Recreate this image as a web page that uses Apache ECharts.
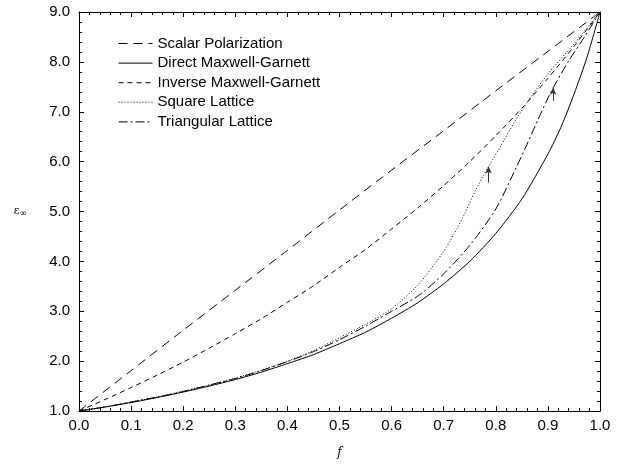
<!DOCTYPE html>
<html>
<head>
<meta charset="utf-8">
<script src="https://cdn.jsdelivr.net/npm/echarts@6/dist/echarts.min.js"></script>
<style>
html,body{margin:0;padding:0;background:#fff;}
#chart{width:619px;height:466px;}
</style>
</head>
<body>
<div id="chart"></div>
<script>
// ---- data ----
var seriesNames = ['Scalar Polarization','Direct Maxwell-Garnett','Inverse Maxwell-Garnett','Square Lattice','Triangular Lattice'];

var fScalar   = [0, 0.1, 0.2, 0.3, 0.4, 0.5, 0.6, 0.7, 0.8, 0.9, 1.0];
var epsScalar = [1.00, 1.81, 2.62, 3.42, 4.22, 5.03, 5.83, 6.62, 7.42, 8.21, 9.00];

var fDirect   = [0, 0.05, 0.1, 0.15, 0.2, 0.25, 0.3, 0.35, 0.4, 0.45, 0.5, 0.55, 0.6, 0.65, 0.7, 0.75, 0.8, 0.85, 0.9, 0.925, 0.95, 0.975, 1.0];
var epsDirect = [1.00, 1.08, 1.17, 1.27, 1.38, 1.50, 1.63, 1.78, 1.95, 2.13, 2.35, 2.58, 2.86, 3.17, 3.55, 4.00, 4.56, 5.25, 6.15, 6.69, 7.35, 8.09, 9.00];

var fInverse   = [0, 0.05, 0.1, 0.15, 0.2, 0.25, 0.3, 0.35, 0.4, 0.45, 0.5, 0.55, 0.6, 0.65, 0.7, 0.75, 0.8, 0.85, 0.9, 0.95, 1.0];
var epsInverse = [1.00, 1.23, 1.47, 1.72, 1.98, 2.26, 2.55, 2.85, 3.18, 3.51, 3.88, 4.24, 4.65, 5.07, 5.52, 6.00, 6.52, 7.07, 7.67, 8.31, 9.00];

var fSquare   = [0, 0.05, 0.1, 0.15, 0.2, 0.25, 0.3, 0.35, 0.4, 0.45, 0.5, 0.55, 0.6, 0.65, 0.7, 0.72, 0.74, 0.76, 0.785, 0.81, 0.835, 0.86, 0.9, 0.95, 1.0];
var epsSquare = [1.00, 1.08, 1.18, 1.28, 1.40, 1.52, 1.66, 1.82, 2.00, 2.21, 2.47, 2.74, 3.05, 3.52, 4.20, 4.55, 4.95, 5.40, 5.88, 6.32, 6.78, 7.18, 7.76, 8.36, 9.00];

var fTriang   = [0, 0.05, 0.1, 0.15, 0.2, 0.25, 0.3, 0.35, 0.4, 0.45, 0.5, 0.55, 0.6, 0.65, 0.7, 0.75, 0.8, 0.84, 0.86, 0.88, 0.907, 0.94, 0.97, 1.0];
var epsTriang = [1.00, 1.08, 1.18, 1.28, 1.39, 1.52, 1.65, 1.81, 1.99, 2.19, 2.43, 2.70, 3.00, 3.30, 3.75, 4.32, 5.05, 5.90, 6.35, 6.82, 7.42, 8.02, 8.50, 9.00];

// arrows: [f, eps tail, eps tip]
var arrowSquare = [0.786, 5.58, 5.90];
var arrowTriang = [0.910, 7.22, 7.48];

var xTickLabels = ['0.0','0.1','0.2','0.3','0.4','0.5','0.6','0.7','0.8','0.9','1.0'];
var yTickLabels = ['1.0','2.0','3.0','4.0','5.0','6.0','7.0','8.0','9.0'];

// ---- build ----
function pairs(xs, ys){ return xs.map(function(x,i){ return [x, ys[i]]; }); }
function arrow(a){
  return {
    silent: true, symbol: ['none','arrow'], symbolSize: [5,7],
    label: {show:false},
    lineStyle: {color:'#333', width:1, type:'solid'},
    emphasis: {disabled:true},
    data: [[{coord:[a[0], a[1]]},{coord:[a[0], a[2]]}]]
  };
}
var styles = [
  {type:[9,6], width:1},
  {type:'solid', width:1},
  {type:[5,4], width:1},
  {type:[1,2], width:1},
  {type:[9,3,2,3], width:1}
];
var datasets = [
  pairs(fScalar, epsScalar),
  pairs(fDirect, epsDirect),
  pairs(fInverse, epsInverse),
  pairs(fSquare, epsSquare),
  pairs(fTriang, epsTriang)
];
var series = seriesNames.map(function(n,i){
  var s = {
    name: n, type: 'line', data: datasets[i],
    symbol: 'none', smooth: 0.25,
    lineStyle: {color:'#000', width: styles[i].width, type: styles[i].type},
    itemStyle: {color:'#000'},
    emphasis: {disabled:true},
    z: 3
  };
  if (i === 3) s.markLine = arrow(arrowSquare);
  if (i === 4) s.markLine = arrow(arrowTriang);
  return s;
});

var axisFont = {fontFamily:'Liberation Sans, Arial, sans-serif', fontSize:15, color:'#000'};
var tickCommon = {show:true, inside:true, length:5, lineStyle:{color:'#000', width:1}};
var minorCommon = {show:true, splitNumber:5, length:3, lineStyle:{color:'#000', width:1}};

var chart = echarts.init(document.getElementById('chart'), null, {renderer:'canvas'});
chart.setOption({
  animation: false,
  backgroundColor: '#fff',
  grid: {left:79, right:19, top:12, bottom:55, containLabel:false},
  legend: {
    data: seriesNames, orient:'vertical', left:113, top:31,
    itemWidth:34, itemHeight:14, itemGap:4.6,
    itemStyle: {opacity:0},
    lineStyle: {width:1},
    textStyle: {fontFamily:'Liberation Sans, Arial, sans-serif', fontSize:15, lineHeight:14, color:'#000'},
    selectedMode: false
  },
  xAxis: [{
    type:'value', min:0, max:1, interval:0.1,
    name:'f', nameLocation:'middle', nameGap:36,
    nameTextStyle:{fontFamily:'DejaVu Serif, serif', fontStyle:'italic', fontSize:12, color:'#000'},
    axisLine:{show:true, onZero:false, lineStyle:{color:'#000', width:1}},
    axisTick: tickCommon, minorTick: minorCommon,
    axisLabel:{show:true, margin:7, formatter:function(v){ return xTickLabels[Math.round(v*10)]; }, fontFamily:axisFont.fontFamily, fontSize:15, color:'#000'},
    splitLine:{show:false}
  },{
    type:'value', min:0, max:1, interval:0.1, position:'top',
    axisLine:{show:true, onZero:false, lineStyle:{color:'#000', width:1}},
    axisTick: tickCommon, minorTick: minorCommon,
    axisLabel:{show:false}, splitLine:{show:false}
  }],
  yAxis: [{
    type:'value', min:1, max:9, interval:1,
    name:'{a|ε}{b|∞}', nameLocation:'middle', nameGap:52, nameRotate:0,
    nameTextStyle:{rich:{a:{fontFamily:'DejaVu Serif, serif', fontSize:11, color:'#000'}, b:{fontFamily:'DejaVu Sans, sans-serif', fontSize:9, color:'#000', padding:[4,0,0,0]}}},
    axisLine:{show:true, onZero:false, lineStyle:{color:'#000', width:1}},
    axisTick: tickCommon, minorTick: minorCommon,
    axisLabel:{show:true, margin:9, formatter:function(v){ return yTickLabels[Math.round(v)-1]; }, fontFamily:axisFont.fontFamily, fontSize:15, color:'#000'},
    splitLine:{show:false}
  },{
    type:'value', min:1, max:9, interval:1, position:'right',
    axisLine:{show:true, onZero:false, lineStyle:{color:'#000', width:1}},
    axisTick: tickCommon, minorTick: minorCommon,
    axisLabel:{show:false}, splitLine:{show:false}
  }],
  series: series
});
</script>
</body>
</html>
